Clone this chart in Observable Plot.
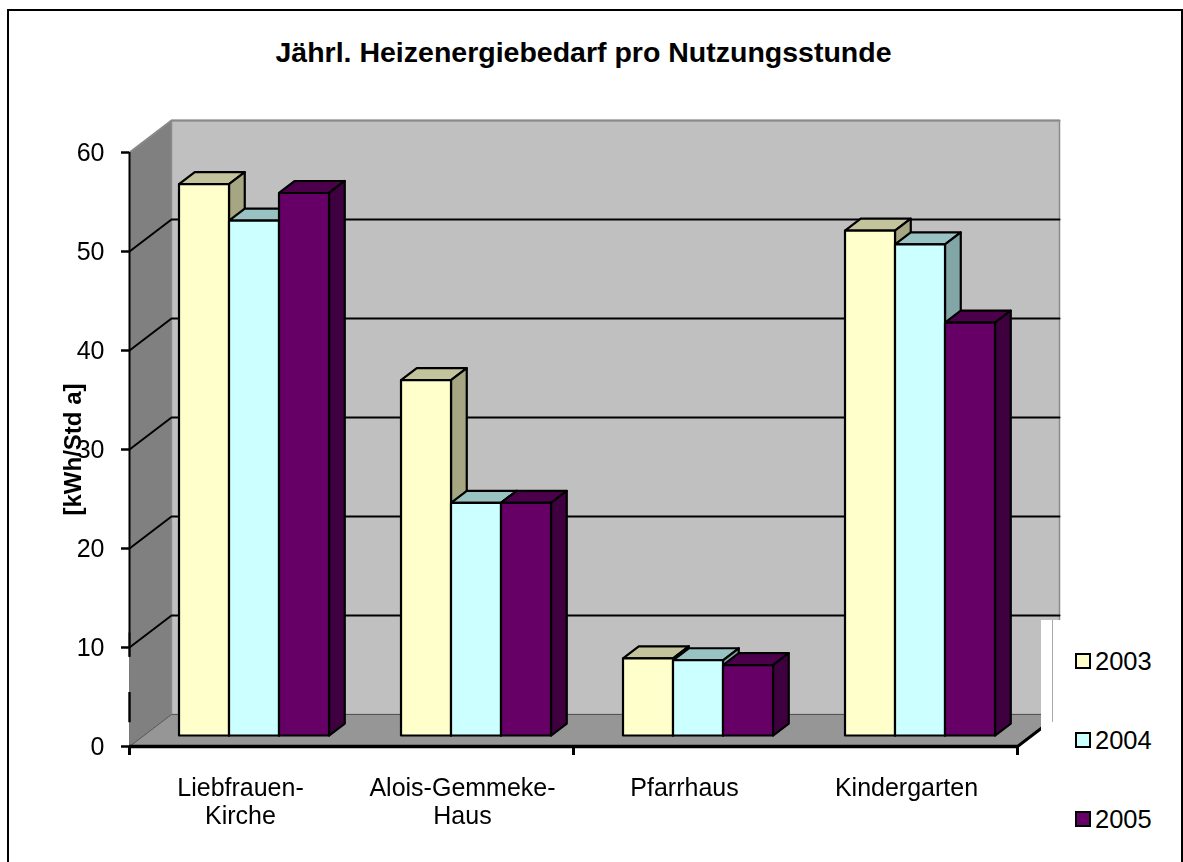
<!DOCTYPE html>
<html lang="de">
<head>
<meta charset="utf-8">
<script src="https://cdn.jsdelivr.net/npm/d3@7"></script>
<script src="https://cdn.jsdelivr.net/npm/@observablehq/plot@0.6"></script>
<style>
html,body{margin:0;padding:0;background:#fff;overflow:hidden}
#page{position:relative;width:1183px;height:862px;font-family:"Liberation Sans",Arial,sans-serif;color:#000}
#frame{position:absolute;left:7px;top:9px;width:1176px;height:860px;border:2px solid #000;box-sizing:border-box;pointer-events:none}
#title{position:absolute;left:0;width:1167px;top:37px;text-align:center;font-weight:bold;font-size:28.5px;line-height:30px}
#legend .row{position:absolute;left:1075px;display:flex;align-items:center;height:30px;font-size:25.5px}
#legend .sw{width:12px;height:12px;border:2px solid #000;margin-right:4px;display:inline-block}
svg{position:absolute;left:0;top:0;filter:blur(0.35px)}
</style>
</head>
<body>
<div id="page">
  <div id="chart"></div>
  <div id="frame"></div>
  <div id="title">Jährl. Heizenergiebedarf pro Nutzungsstunde</div>
  <div id="legend"></div>
</div>
<script>
const categories = ["Liebfrauen-\nKirche", "Alois-Gemmeke-\nHaus", "Pfarrhaus", "Kindergarten"];
const years = ["2003", "2004", "2005"];
const values2003 = [55.7, 35.9, 7.8, 51];
const values2004 = [52, 23.5, 7.6, 49.6];
const values2005 = [54.8, 23.5, 7.1, 41.7];
const series = [values2003, values2004, values2005];
const yTicks = [0, 10, 20, 30, 40, 50, 60];
const xTicks = [0, 2, 4];

const frontColors = ["#FFFFCC", "#CCFFFF", "#660066"];
const topColors = ["#C4C49C", "#99C2C2", "#4C004C"];
const sideColors = ["#A6A682", "#82A6A6", "#3F003F"];

// oblique projection: depth z in 0..1 shifts a point along the category and value axes
const kx = 42 / 222, ky = 32 / 9.9;
const P = (x, v, z = 0) => ({x: x + z * kx, y: v + z * ky});
const poly = (pts, opts) => Plot.line(pts, {x: "x", y: "y", curve: "linear-closed", strokeLinejoin: "round", ...opts});

const xMax = categories.length, yMax = 60;
const marks = [];

// walls and floor
marks.push(poly([P(0,0,0),P(0,yMax,0),P(0,yMax,1),P(0,0,1)], {fill:"#808080", stroke:"#777", strokeWidth:1}));
marks.push(poly([P(0,0,1),P(0,yMax,1),P(xMax,yMax,1),P(xMax,0,1)], {fill:"#C0C0C0", stroke:"#8a8a8a", strokeWidth:1.5}));
marks.push(poly([P(0,0,0),P(0,0,1),P(xMax,0,1),P(xMax,0,0)], {fill:"#969696", stroke:"#555", strokeWidth:1}));

// gridlines
for (const t of yTicks.slice(1, -1)) {
  marks.push(Plot.line([P(0,t,0),P(0,t,1),P(xMax,t,1)], {x:"x", y:"y", stroke:"#000", strokeWidth:2}));
}
marks.push(Plot.line([P(0,yMax,0),P(0,yMax,1),P(xMax,yMax,1)], {x:"x", y:"y", stroke:"#8a8a8a", strokeWidth:2}));

// bars
const barW = 50 / 222, z0 = 11 / 32, z1 = 23 / 32, start = 0.158;
categories.forEach((c, i) => {
  series.forEach((vals, s) => {
    const v = vals[i], a = i + start + s * barW, b = a + barW;
    const style = {stroke:"#000", strokeWidth:2.2};
    marks.push(poly([P(a,v,z0),P(a,v,z1),P(b,v,z1),P(b,v,z0)], {fill:topColors[s], ...style}));
    marks.push(poly([P(b,0,z0),P(b,v,z0),P(b,v,z1),P(b,0,z1)], {fill:sideColors[s], ...style}));
    marks.push(poly([P(a,0,z0),P(a,v,z0),P(b,v,z0),P(b,0,z0)], {fill:frontColors[s], ...style}));
  });
});

// axes
marks.push(Plot.ruleY([0], {x1:0, x2:xMax, stroke:"#000", strokeWidth:3.5}));
marks.push(Plot.line([P(xMax,0,0),P(xMax,0,0.6)], {x:"x", y:"y", stroke:"#000", strokeWidth:3}));
marks.push(Plot.ruleX([0], {y1:11.5, y2:yMax, stroke:"#000", strokeWidth:2}));
marks.push(Plot.ruleX([0], {y1:9, y2:11.5, stroke:"#000", strokeWidth:2.4}));
marks.push(Plot.ruleX([0], {y1:2.4, y2:5.45, stroke:"#000", strokeWidth:2.4}));
marks.push(Plot.axisY({ticks:yTicks, tickSize:8, tickPadding:17, fontSize:25, label:null, strokeWidth:2.5, stroke:"#000", textStroke:"none", dy:0, tickFormat:d3.format("d")}));
marks.push(Plot.ruleX(xTicks, {y1:0, y2:0, insetBottom:-9, stroke:"#000", strokeWidth:3}));
marks.push(Plot.text(categories, {x:(d,i)=>i+0.5, y:0, text:d=>d, dy:30, fontSize:25, lineHeight:1.12, lineAnchor:"top", textAnchor:"middle", fill:"#000"}));
marks.push(Plot.text(["[kWh/Std a]"], {frameAnchor:"left", dx:-56, rotate:-90, textAnchor:"middle", fontWeight:"bold", fontSize:24, fill:"#000"}));

const chart = Plot.plot({
  width:1183, height:862,
  marginLeft:129, marginRight:166, marginTop:152, marginBottom:116,
  style:{fontFamily:'"Liberation Sans",Arial,sans-serif', background:"transparent", color:"#000", overflow:"visible"},
  x:{domain:[0,xMax], axis:null},
  y:{domain:[0,yMax], axis:null},
  marks
});
document.getElementById("chart").append(chart);

// legend (over a white panel that hides the lower right corner of the walls)
const legend = document.getElementById("legend");
const panel = document.createElement("div");
panel.style.cssText = "position:absolute;left:1041px;top:620px;width:139px;height:190px;background:#fff";
const seam = document.createElement("div");
seam.style.cssText = "position:absolute;left:11px;top:0;width:1px;height:102px;background:#aaa";
panel.append(seam);
legend.append(panel);
[646, 725, 804].forEach((top, i) => {
  const r = document.createElement("div");
  r.className = "row"; r.style.top = top + "px";
  const sw = document.createElement("span");
  sw.className = "sw"; sw.style.background = frontColors[i];
  r.append(sw, document.createTextNode(years[i]));
  legend.append(r);
});
</script>
</body>
</html>
